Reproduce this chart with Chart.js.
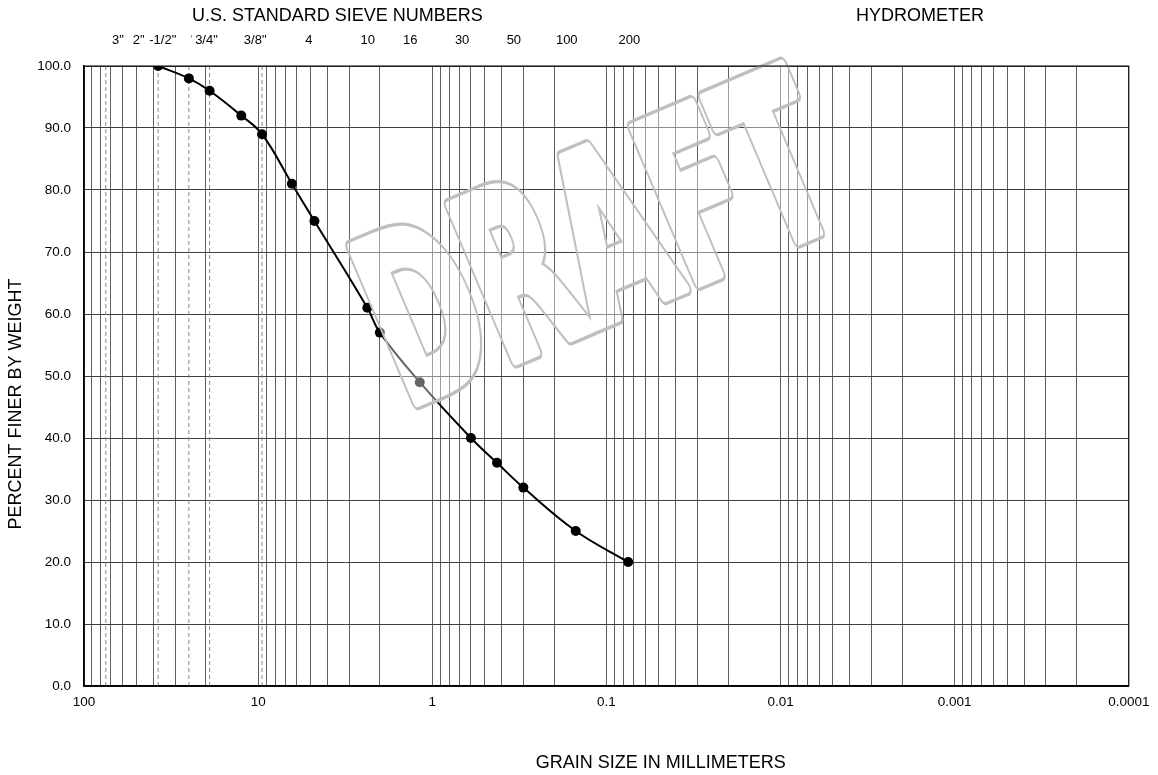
<!DOCTYPE html>
<html>
<head>
<meta charset="utf-8">
<script src="https://cdn.jsdelivr.net/npm/chart.js@4.4.0/dist/chart.umd.min.js"></script>
<style>
  html, body { margin: 0; background: #fff; }
  #wrap { width: 1158px; height: 775px; }
</style>
</head>
<body>
<div id="wrap"><canvas id="gradation"></canvas></div>
<script>
// sieve analysis results: grain size (mm) vs percent passing
const grainSizes = [37.5, 25, 19, 12.5, 9.5, 6.4, 4.75, 2.36, 2.0, 1.18, 0.6, 0.425, 0.3, 0.15, 0.075];
const percentFiner = [100, 98, 96, 92, 89, 81, 75, 61, 57, 49, 40, 36, 32, 25, 20];

// axis ticks
const decades = [100, 10, 1, 0.1, 0.01, 0.001, 0.0001];
const minorSteps = [9, 8, 7, 6, 5, 4, 3, 2];
const yTicks = [0, 10, 20, 30, 40, 50, 60, 70, 80, 90, 100];

// sieve names along the top, anchored at a grain size (mm)
const sieveLabels = ['3"', '2"', '-1/2"', "'", '3/4"', '3/8"', '4', '10', '16', '30', '50', '100', '200'];
const sieveLabelAt = [63.9, 48.5, 35.3, 24.15, 19.8, 10.4, 5.11, 2.35, 1.34, 0.674, 0.34, 0.169, 0.0739];

// coarse sieve openings shown as dashed lines
const dashedSizes = [75, 37.5, 25, 19, 9.5];

const FONT = '"Liberation Sans", Arial, sans-serif';
const STAMP_FONT = '"DejaVu Sans", "Liberation Sans", sans-serif';
Chart.defaults.font.family = FONT;
Chart.defaults.color = '#000';

const gridValues = [];
decades.forEach((d, i) => {
  gridValues.push(d);
  if (i < decades.length - 1) minorSteps.forEach((m) => gridValues.push((d / 10) * m));
});

const dashedLines = {
  id: 'dashedLines',
  beforeDatasetsDraw(chart) {
    const { ctx, chartArea: ca, scales } = chart;
    ctx.save();
    ctx.strokeStyle = '#8a8a8a';
    ctx.lineWidth = 1;
    ctx.setLineDash([4, 3]);
    dashedSizes.forEach((d) => {
      const x = scales.x.getPixelForValue(d);
      ctx.beginPath();
      ctx.moveTo(x, ca.top);
      ctx.lineTo(x, ca.bottom);
      ctx.stroke();
    });
    ctx.restore();
  },
};

const draftStamp = {
  id: 'draftStamp',
  afterDatasetsDraw(chart) {
    const { ctx, chartArea: ca } = chart;
    const cw = chart.canvas.width;
    const chh = chart.canvas.height;
    const ox = ca.left + 0.317 * (ca.right - ca.left);
    const oy = ca.top + 0.552 * (ca.bottom - ca.top);
    const fat = 10;
    const ring = 3.4;
    const boxW = 476;
    const boxH = 178;

    const probe = document.createElement('canvas').getContext('2d');
    probe.font = `bold 200px ${STAMP_FONT}`;
    const m = probe.measureText('DRAFT');
    const k = (boxH - fat) / m.actualBoundingBoxAscent;
    const bw = (m.actualBoundingBoxLeft + m.actualBoundingBoxRight) * k;
    const sx = boxW / (bw + fat);
    const tx = fat / 2 + m.actualBoundingBoxLeft * k;
    const ty = -fat / 2;

    function layer(paint) {
      const c = document.createElement('canvas');
      c.width = cw;
      c.height = chh;
      const o = c.getContext('2d');
      o.translate(ox, oy);
      o.rotate((-23 * Math.PI) / 180);
      o.scale(sx, 1);
      o.font = `bold ${200 * k}px ${STAMP_FONT}`;
      o.textAlign = 'left';
      o.textBaseline = 'alphabetic';
      o.lineJoin = 'round';
      paint(o);
      return c;
    }

    const fill = layer((o) => {
      o.fillStyle = '#fff';
      o.strokeStyle = '#fff';
      o.lineWidth = fat;
      o.strokeText('DRAFT', tx, ty);
      o.fillText('DRAFT', tx, ty);
    });
    const outline = layer((o) => {
      o.strokeStyle = '#bfbfbf';
      o.lineWidth = fat + ring * 2;
      o.strokeText('DRAFT', tx, ty);
      o.globalCompositeOperation = 'destination-out';
      o.lineWidth = fat;
      o.strokeText('DRAFT', tx, ty);
      o.fillText('DRAFT', tx, ty);
    });

    ctx.save();
    ctx.setTransform(1, 0, 0, 1, 0, 0);
    ctx.globalAlpha = 0.4;
    ctx.drawImage(fill, 0, 0);
    ctx.globalAlpha = 1;
    ctx.drawImage(outline, 0, 0);
    ctx.restore();
  },
};

const frameAndText = {
  id: 'frameAndText',
  afterDraw(chart) {
    const { ctx, chartArea: ca, scales } = chart;
    ctx.save();
    ctx.strokeStyle = '#000';
    ctx.lineWidth = 1;
    ctx.strokeRect(ca.left, ca.top, ca.right - ca.left, ca.bottom - ca.top);

    ctx.fillStyle = '#000';
    ctx.textBaseline = 'middle';
    ctx.font = `18px ${FONT}`;
    ctx.textAlign = 'left';
    ctx.fillText('U.S. STANDARD SIEVE NUMBERS', 192, 16);
    ctx.textAlign = 'center';
    ctx.fillText('HYDROMETER', scales.x.getPixelForValue(0.00158), 16);

    ctx.font = `13px ${FONT}`;
    sieveLabels.forEach((label, i) => {
      ctx.fillStyle = label === "'" ? '#999' : '#000';
      ctx.fillText(label, scales.x.getPixelForValue(sieveLabelAt[i]), 40);
    });

    ctx.fillStyle = '#000';
    ctx.font = `18px ${FONT}`;
    ctx.fillText('GRAIN SIZE IN MILLIMETERS', ca.left + 0.552 * (ca.right - ca.left), 763);

    ctx.translate(16, ca.top + 0.545 * (ca.bottom - ca.top));
    ctx.rotate(-Math.PI / 2);
    ctx.fillText('PERCENT FINER BY WEIGHT', 0, 0);
    ctx.restore();
  },
};

new Chart(document.getElementById('gradation'), {
  type: 'scatter',
  data: {
    datasets: [{
      data: grainSizes.map((d, i) => ({ x: d, y: percentFiner[i] })),
      showLine: true,
      borderColor: '#000',
      borderWidth: 2,
      tension: 0.4,
      pointRadius: 5,
      pointBackgroundColor: '#000',
      pointBorderWidth: 0,
    }],
  },
  options: {
    responsive: true,
    maintainAspectRatio: false,
    animation: false,
    events: [],
    layout: { padding: { top: 66, right: 25, left: 0, bottom: 0 } },
    plugins: { legend: { display: false }, tooltip: { enabled: false } },
    scales: {
      x: {
        type: 'logarithmic',
        reverse: true,
        min: 0.0001,
        max: 100,
        afterBuildTicks: (scale) => { scale.ticks = gridValues.map((v) => ({ value: v })); },
        afterFit: (scale) => { scale.height = 89; },
        grid: { color: '#606060', lineWidth: 1, drawTicks: false },
        border: { display: true, color: '#000', width: 1.5 },
        ticks: {
          autoSkip: false,
          maxRotation: 0,
          padding: 8.5,
          font: { size: 13.5 },
          color: '#000',
          callback: (v) => (decades.includes(v) ? String(v) : ''),
        },
      },
      y: {
        min: 0,
        max: 100,
        afterBuildTicks: (scale) => { scale.ticks = yTicks.map((v) => ({ value: v })); },
        afterFit: (scale) => { scale.width = 84; },
        grid: { color: '#404040', lineWidth: 1, drawTicks: false },
        border: { display: true, color: '#000', width: 1.5 },
        ticks: {
          padding: 13,
          font: { size: 13.5 },
          color: '#000',
          callback: (v) => v.toFixed(1),
        },
      },
    },
  },
  plugins: [dashedLines, draftStamp, frameAndText],
});
</script>
</body>
</html>
